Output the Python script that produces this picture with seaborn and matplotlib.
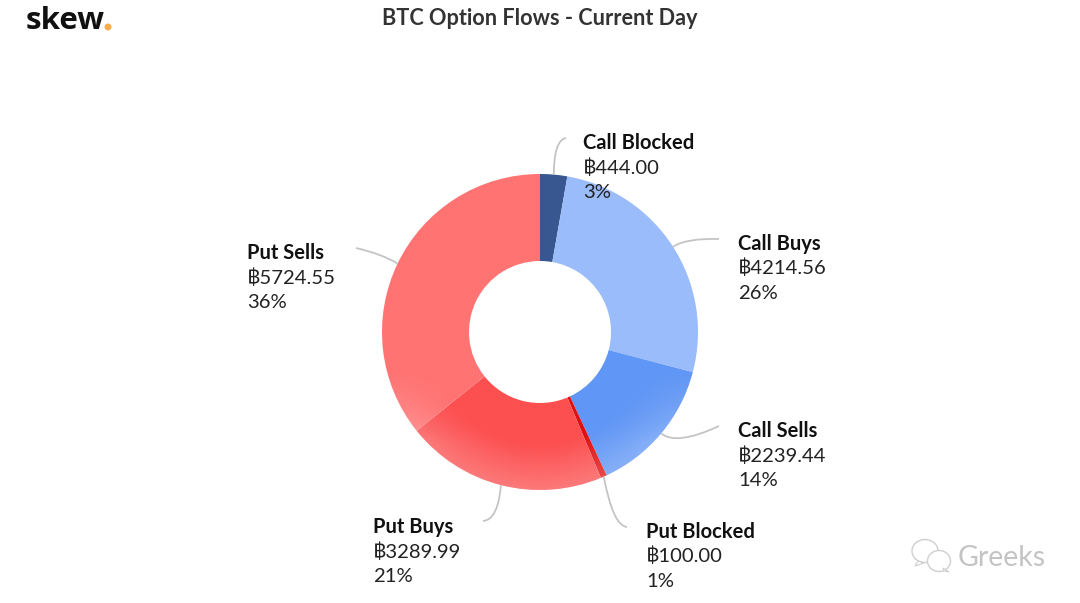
import numpy as np
import matplotlib
matplotlib.use('Agg')
import matplotlib.pyplot as plt
import seaborn as sns
from matplotlib.patches import Ellipse, PathPatch, Polygon
from matplotlib.path import Path

categories = ['Call Blocked', 'Call Buys', 'Call Sells', 'Put Blocked', 'Put Buys', 'Put Sells']
values = [444.00, 4214.56, 2239.44, 100.00, 3289.99, 5724.55]
value_labels = ['฿444.00', '฿4214.56', '฿2239.44', '฿100.00', '฿3289.99', '฿5724.55']
percents = ['3%', '26%', '14%', '1%', '21%', '36%']
colors = ['#38568f', '#9bbcfb', '#6096f5', '#e01010', '#fc4f50', '#ff7373']

# left edge and first baseline of each label, in pixels from the top of the image
label_pos = {
    'Call Blocked': (583, 149),
    'Call Buys': (738, 250),
    'Call Sells': (738, 437),
    'Put Blocked': (646, 538),
    'Put Buys': (373, 533),
    'Put Sells': (247, 259),
}
# leader end, and the control point that bends it
leader_end = {
    'Call Blocked': (566, 138),
    'Call Buys': (719, 239),
    'Call Sells': (719, 426),
    'Put Blocked': (627, 527),
    'Put Buys': (483, 521),
    'Put Sells': (356, 248),
}
leader_ctrl = {
    'Call Blocked': (554, 140),
    'Call Buys': (686, 238),
    'Call Sells': (676, 446),
    'Put Blocked': (613, 526),
    'Put Buys': (498, 520),
    'Put Sells': (382, 254),
}

W, H = 1080, 603
CX, CY, R, R_IN = 540, 332, 158, 71

sns.set_theme(style='white')
plt.rcParams['font.family'] = ['Lato', 'DejaVu Sans']

fig = plt.figure(figsize=(W / 100, H / 100), dpi=100)
ax = fig.add_axes([0, 0, 1, 1])

wedges, _ = ax.pie(values, colors=sns.color_palette(colors), startangle=90, counterclock=False,
                   radius=R, center=(CX, H - CY), wedgeprops={'width': R - R_IN, 'linewidth': 0},
                   frame=True)
ax.set_xlim(0, W)
ax.set_ylim(0, H)
ax.set_aspect('equal')
ax.axis('off')

# pale sheen on the outer rim of the lower half
xx, yy = np.meshgrid(np.arange(CX - R, CX + R + 1), np.arange(H - CY - R, H - CY + R + 1))
rr = np.hypot(xx - CX, yy - (H - CY))
fade = np.clip((rr - 112) / 46, 0, 1) * np.clip(((H - CY) - yy - 40) / 70, 0, 1) * 0.24
sheen = np.ones(xx.shape + (4,))
sheen[..., 3] = fade
for w in wedges:
    im = ax.imshow(sheen, extent=(CX - R, CX + R, H - CY - R, H - CY + R), origin='lower',
                   zorder=2, interpolation='bilinear')
    im.set_clip_path(w)
ax.set_xlim(0, W)
ax.set_ylim(0, H)

cum = np.cumsum([0] + values)
for i, name in enumerate(categories):
    mid = (cum[i] + cum[i + 1]) / 2 / cum[-1] * 2 * np.pi
    sx, sy = CX + R * np.sin(mid), H - CY + R * np.cos(mid)
    ex, ey = leader_end[name]
    qx, qy = leader_ctrl[name]
    path = Path([(sx, sy), (qx, H - qy), (ex, H - ey)], [Path.MOVETO, Path.CURVE3, Path.CURVE3])
    ax.add_patch(PathPatch(path, fc='none', ec='#c4c4c4', lw=1.3, zorder=1))
    x, y = label_pos[name]
    ax.text(x, H - y, name, fontsize=14.5, fontweight='bold', color='#111111', va='baseline')
    ax.text(x, H - y - 24.5, value_labels[i], fontsize=14.6, color='#222222', va='baseline')
    ax.text(x, H - y - 49, percents[i], fontsize=14.6, color='#222222', va='baseline')

ax.text(539.5, H - 25, 'BTC Option Flows - Current Day', fontsize=15.6, fontweight='bold',
        color='#333333', ha='center', va='baseline')

# logo
ax.text(26, H - 29, 'skew', fontsize=22.5, fontweight='bold', color='#111111', va='baseline',
        family=['Open Sans', 'DejaVu Sans'])
ax.add_patch(Ellipse((108, H - 27), 7, 7, color='#f6ae4c', lw=0))

# watermark
for (bx, by, bw, bh) in [(925, 551, 26, 23), (939, 561, 23, 21)]:
    ax.add_patch(Ellipse((bx, H - by), bw, bh, fc='white', ec='#cfcfcf', lw=1.0, zorder=3))
ax.add_patch(Polygon([(918, H - 561), (915, H - 566), (924, H - 563)], fc='white', ec='#cfcfcf', lw=0.8, zorder=3))
ax.add_patch(Polygon([(944, H - 571), (949, H - 572), (943, H - 568)], fc='white', ec='#cfcfcf', lw=0.8, zorder=3))
ax.text(958, H - 566, 'Greeks', fontsize=20.5, color='#c4c4c4', va='baseline')

fig.savefig('out.png', dpi=100, facecolor='white')
